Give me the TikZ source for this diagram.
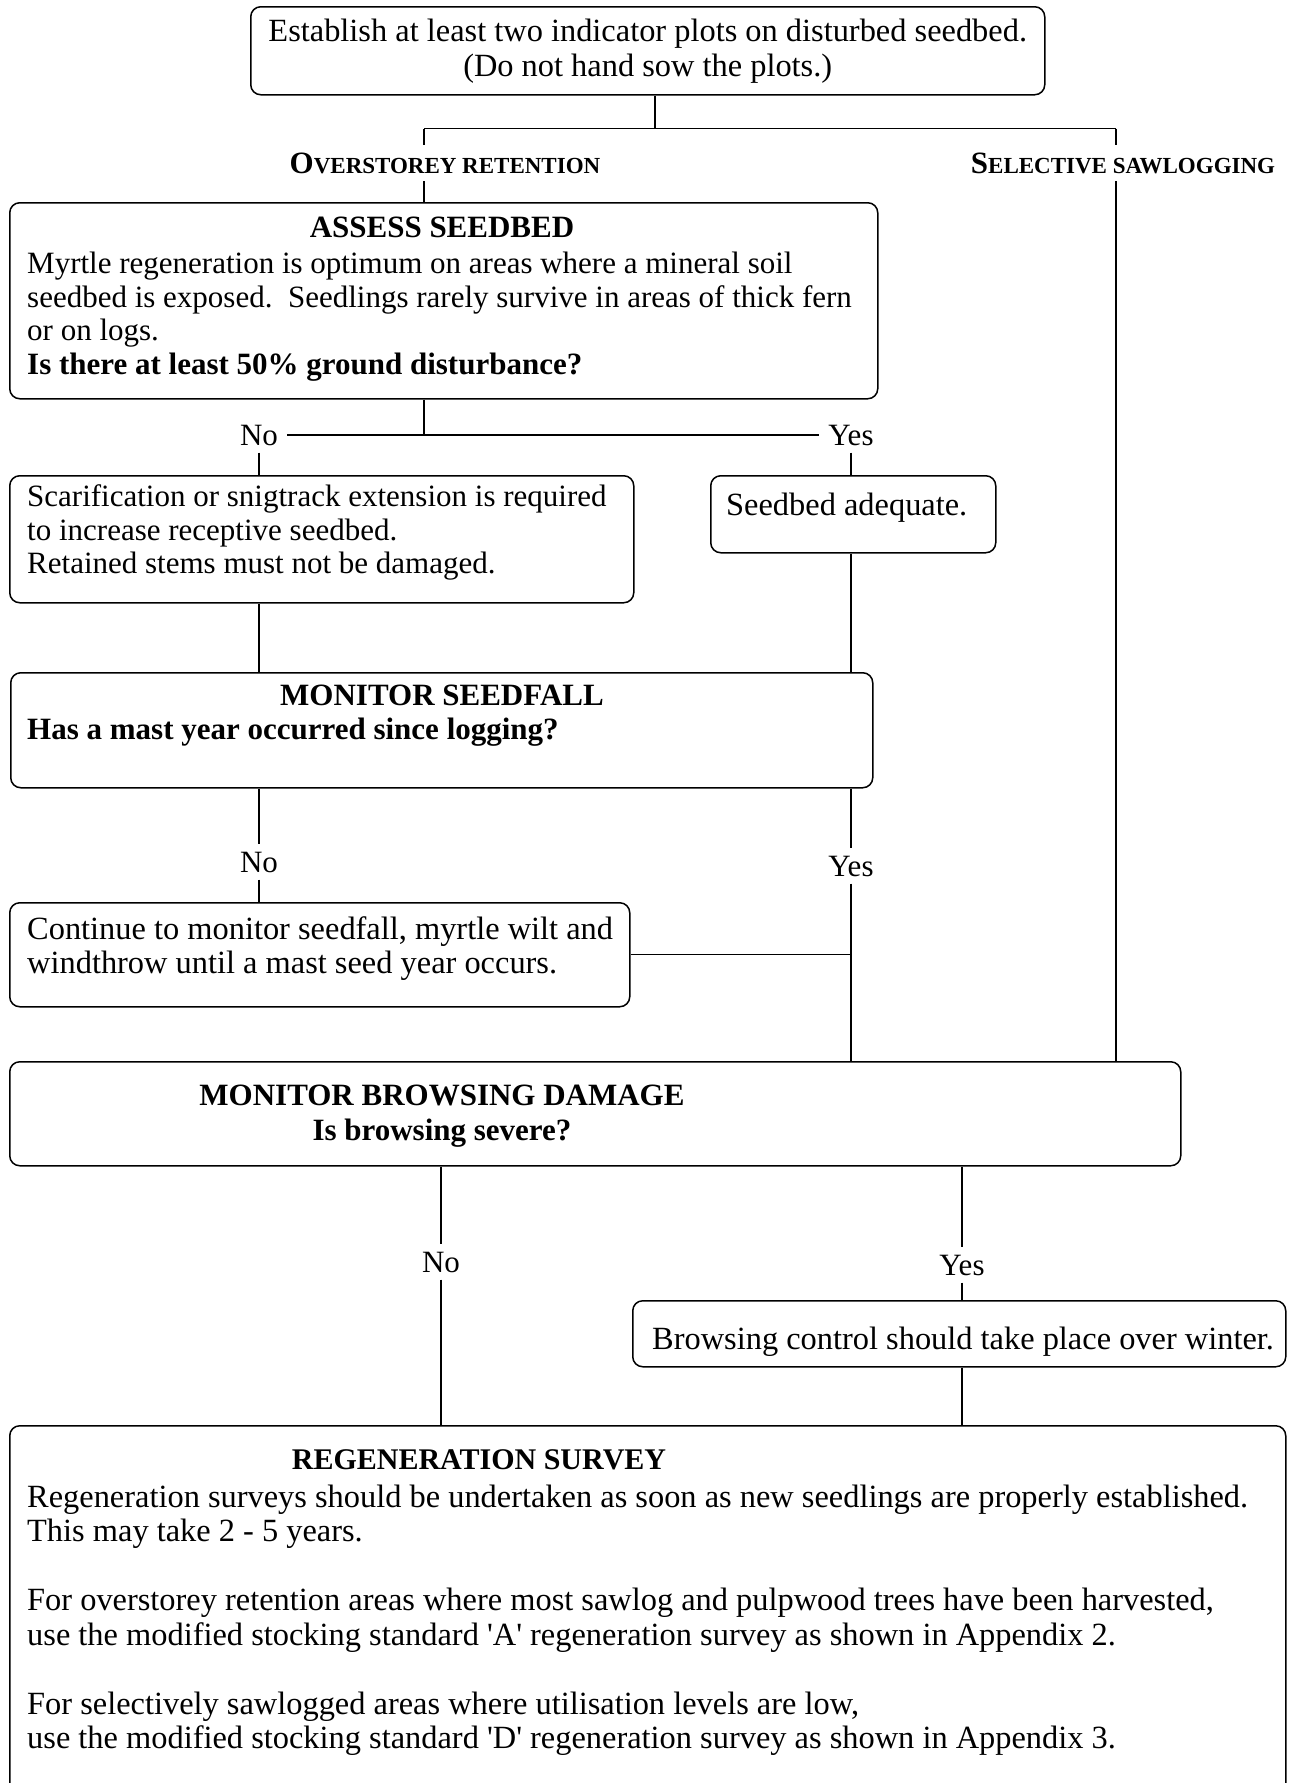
\documentclass[tikz,border=0pt]{standalone}
\usepackage{fontspec}
\setmainfont{Liberation Serif}
\usepackage{tikz}
\usetikzlibrary{positioning}

\newcommand{\fakesc}[2]{{\fontsize{31}{31}\selectfont #1}{\fontsize{23}{23}\selectfont #2}}

\begin{document}
\begin{tikzpicture}[x=1pt,y=-1pt,
	box/.style={draw,line width=1.5pt,rounded corners=10pt,inner sep=0pt,anchor=north west},
	conn/.style={line width=1.1pt},
	txt/.style={inner sep=0pt,font=\fontsize{31}{33.5}\selectfont},
	title/.style={inner sep=0pt,anchor=base,font=\fontsize{31}{33.5}\selectfont\bfseries},
	body/.style={txt,align=left,anchor=north west},
	widebody/.style={body,font=\fontsize{32.4}{34.5}\selectfont},
	yn/.style={txt,inner xsep=9pt,inner ysep=7pt,text height=21pt,text depth=0pt},
	branch/.style={inner xsep=0pt,inner ysep=8pt,text height=20pt,text depth=0pt,font=\bfseries}]
	\useasboundingbox (0,0) rectangle (1292,1783);

	\node[box,minimum width=794pt,minimum height=88pt,align=center,font=\fontsize{32.4}{35}\selectfont] (plots) at (250,6)
		{Establish at least two indicator plots on disturbed seedbed.\\(Do not hand sow the plots.)};
	\coordinate (jt) at (655,128.5);
	\coordinate (jl) at (424,128.5);
	\coordinate (jr) at (1116,128.5);
	\node[branch] (ovr) at (445,163) {\fakesc{O}{VERSTOREY RETENTION}};
	\node[branch] (sel) at (1123,163) {\fakesc{S}{ELECTIVE SAWLOGGING}};

	\node[box,minimum width=868pt,minimum height=196pt] (assess) at (9,202) {};
	\node[title] (assesst) at (442,237.5) {ASSESS SEEDBED};
	\node[body] (assessb) at (27,250) {\strut Myrtle regeneration is optimum on areas where a mineral soil\\
		seedbed is exposed.\ \ Seedlings rarely survive in areas of thick fern\\
		or on logs.\\
		\textbf{Is there at least 50\% ground disturbance?}};

	\node[yn] (no1) at (259,435) {No};
	\node[yn] (yes1) at (851,435) {Yes};

	\node[box,minimum width=624pt,minimum height=127pt] (scar) at (9,475) {};
	\node[body] (scarb) at (27,483) {\strut Scarification or snigtrack extension is required\\
		to increase receptive seedbed.\\
		Retained stems must not be damaged.};
	\node[box,minimum width=285pt,minimum height=77pt] (seedbed) at (710,475) {};
	\node[widebody] (seedbedb) at (726,491) {\strut Seedbed adequate.};

	\node[box,minimum width=862pt,minimum height=115pt] (seedfall) at (10,672) {};
	\node[title] (seedfallt) at (442,705.5) {MONITOR SEEDFALL};
	\node[body,font=\fontsize{31}{33.5}\selectfont\bfseries] (seedfallb) at (27,716) {\strut Has a mast year occurred since logging?};

	\node[yn] (no2) at (259,862) {No};
	\node[yn] (yes2) at (851,866) {Yes};

	\node[box,minimum width=620pt,minimum height=104pt] (cont) at (9,902) {};
	\node[widebody] (contb) at (27,915) {\strut Continue to monitor seedfall, myrtle wilt and\\
		windthrow until a mast seed year occurs.};

	\node[box,minimum width=1171pt,minimum height=104pt] (browse) at (9,1061) {};
	\node[title] (browset) at (442,1105.5) {MONITOR BROWSING DAMAGE};
	\node[title] (browseq) at (442,1140.5) {Is browsing severe?};

	\node[yn] (no3) at (441,1262) {No};
	\node[yn] (yes3) at (962,1265) {Yes};

	\node[box,minimum width=653pt,minimum height=66pt] (ctrl) at (632,1300) {};
	\node[widebody] (ctrlb) at (652,1325) {\strut Browsing control should take place over winter.};

	\node[box,minimum width=1276pt,minimum height=390pt] (regen) at (9,1425) {};
	\node[title,font=\fontsize{30}{33.5}\selectfont\bfseries] (regent) at (479,1469.5) {REGENERATION SURVEY};
	\node[widebody] (regenb) at (27,1483) {\strut Regeneration surveys should be undertaken as soon as new seedlings are properly established.\\
		This may take 2 - 5 years.\\[34.5pt]
		For overstorey retention areas where most sawlog and pulpwood trees have been harvested,\\
		use the modified stocking standard \textquotesingle A\textquotesingle\ regeneration survey as shown in Appendix 2.\\[34.5pt]
		For selectively sawlogged areas where utilisation levels are low,\\
		use the modified stocking standard \textquotesingle D\textquotesingle\ regeneration survey as shown in Appendix 3.};

	\draw[conn] (jt |- plots.south) -- (jt);
	\draw[conn] (jl) -- (jr);
	\draw[conn] (jl) -- (jl |- ovr.north);
	\draw[conn] (jl |- ovr.south) -- (jl |- assess.north);
	\draw[conn] (jr) -- (jr |- sel.north);
	\draw[conn] (jr |- sel.south) -- (jr |- browse.north);

	\draw[conn] (jl |- assess.south) -- (jl |- no1.east);
	\draw[conn] (no1.east) -- (yes1.west);
	\draw[conn] (no1.south) -- (no1.south |- scar.north);
	\draw[conn] (yes1.south) -- (yes1.south |- seedbed.north);
	\draw[conn] (no1.south |- scar.south) -- (no1.south |- seedfall.north);
	\draw[conn] (yes1.south |- seedbed.south) -- (yes1.south |- seedfall.north);

	\draw[conn] (no2.north |- seedfall.south) -- (no2.north);
	\draw[conn] (no2.south) -- (no2.south |- cont.north);
	\draw[conn] (yes2.north |- seedfall.south) -- (yes2.north);
	\draw[conn] (yes2.south) -- (yes2.south |- browse.north);
	\draw[conn] (cont.east) -- (cont.east -| yes2.south);

	\draw[conn] (no3.north |- browse.south) -- (no3.north);
	\draw[conn] (no3.south) -- (no3.south |- regen.north);
	\draw[conn] (yes3.north |- browse.south) -- (yes3.north);
	\draw[conn] (yes3.south) -- (yes3.south |- ctrl.north);
	\draw[conn] (yes3.south |- ctrl.south) -- (yes3.south |- regen.north);
\end{tikzpicture}
\end{document}
